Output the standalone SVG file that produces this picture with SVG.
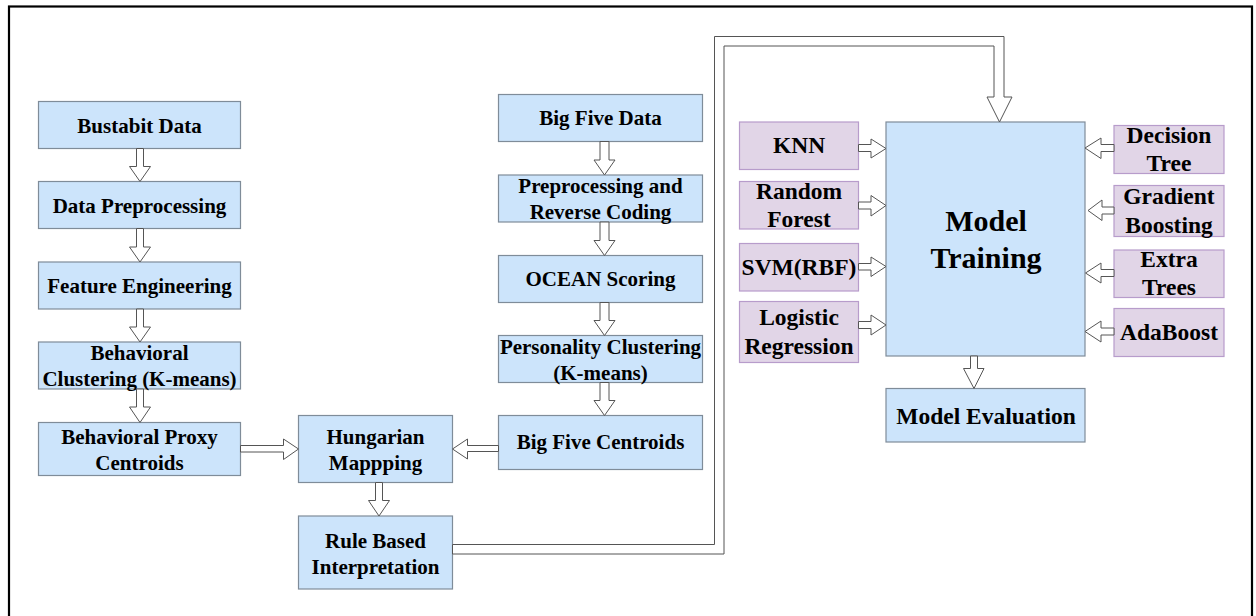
<svg xmlns="http://www.w3.org/2000/svg" width="1256" height="616" viewBox="0 0 1256 616">
<style>
.b{fill:#cce4fb;stroke:#7f8c99;stroke-width:1.2}
.p{fill:#e1d5e7;stroke:#b79ccb;stroke-width:1.2}
.t{font-family:"Liberation Serif","Times New Roman",serif;font-weight:bold;font-size:21px;fill:#000;text-anchor:middle}
.tp{font-size:23.5px}
.te{font-size:23.5px}
.tm{font-size:30px}
.a{fill:#fff;stroke:#555;stroke-width:1}
</style>
<rect x="0" y="0" width="1256" height="616" fill="#fff"/>
<rect x="9" y="6.5" width="1243" height="700" fill="none" stroke="#000" stroke-width="2.2"/>

<g id="n-bustabit"><rect class="b" x="38.5" y="101.5" width="202" height="47"/><text class="t" x="139.5" y="132.5">Bustabit Data</text></g>
<g id="n-datapre"><rect class="b" x="38.5" y="181.5" width="202" height="47"/><text class="t" x="139.5" y="212.5">Data Preprocessing</text></g>
<g id="n-feature"><rect class="b" x="38.5" y="262" width="202" height="47"/><text class="t" x="139.5" y="293">Feature Engineering</text></g>
<g id="n-behclust"><rect class="b" x="38.5" y="342" width="202" height="47"/><text class="t" x="139.5" y="360">Behavioral</text><text class="t" x="139.5" y="386">Clustering (K-means)</text></g>
<g id="n-proxy"><rect class="b" x="38.5" y="422.5" width="202" height="53"/><text class="t" x="139.5" y="443.5">Behavioral Proxy</text><text class="t" x="139.5" y="469.5">Centroids</text></g>

<g id="n-hungarian"><rect class="b" x="298.5" y="415.5" width="154" height="67"/><text class="t" x="375.5" y="444">Hungarian</text><text class="t" x="375.5" y="470">Mappping</text></g>
<g id="n-rule"><rect class="b" x="298.5" y="516" width="154" height="73"/><text class="t" x="375.5" y="547.5">Rule Based</text><text class="t" x="375.5" y="573.5">Interpretation</text></g>

<g id="n-bigfive"><rect class="b" x="498.5" y="94.5" width="204" height="47"/><text class="t" x="600.5" y="125">Big Five Data</text></g>
<g id="n-prerev"><rect class="b" x="498.5" y="175" width="204" height="47"/><text class="t" x="600.5" y="192.5">Preprocessing and</text><text class="t" x="600.5" y="219">Reverse Coding</text></g>
<g id="n-ocean"><rect class="b" x="498.5" y="255.5" width="204" height="47"/><text class="t" x="600.5" y="285.5">OCEAN Scoring</text></g>
<g id="n-persclust"><rect class="b" x="498.5" y="335.5" width="204" height="47"/><text class="t" x="600.5" y="353.5">Personality Clustering</text><text class="t" x="600.5" y="379.5">(K-means)</text></g>
<g id="n-centroids"><rect class="b" x="498.5" y="415.5" width="204" height="54"/><text class="t" x="600.5" y="448.5">Big Five Centroids</text></g>

<g id="n-training"><rect class="b" x="886" y="122" width="199" height="234"/><text class="t tm" x="986" y="231">Model</text><text class="t tm" x="986" y="268">Training</text></g>
<g id="n-eval"><rect class="b" x="886" y="388.5" width="199" height="53.5"/><text class="t te" x="986" y="423.5">Model Evaluation</text></g>

<g id="n-knn"><rect class="p" x="739.5" y="122" width="119" height="47.5"/><text class="t tp" x="799" y="152.5">KNN</text></g>
<g id="n-rf"><rect class="p" x="739.5" y="181.5" width="119" height="47.5"/><text class="t tp" x="799" y="198.5">Random</text><text class="t tp" x="799" y="226.5">Forest</text></g>
<g id="n-svm"><rect class="p" x="739.5" y="243.5" width="119" height="47.5"/><text class="t tp" x="799" y="275">SVM(RBF)</text></g>
<g id="n-lr"><rect class="p" x="739.5" y="301.5" width="119" height="61"/><text class="t tp" x="799" y="325">Logistic</text><text class="t tp" x="799" y="353.5">Regression</text></g>

<g id="n-dt"><rect class="p" x="1114" y="125.5" width="110" height="48"/><text class="t tp" x="1169" y="142.5">Decision</text><text class="t tp" x="1169" y="171">Tree</text></g>
<g id="n-gb"><rect class="p" x="1114" y="185.5" width="110" height="51"/><text class="t tp" x="1169" y="204">Gradient</text><text class="t tp" x="1169" y="233">Boosting</text></g>
<g id="n-et"><rect class="p" x="1114" y="250" width="110" height="47.5"/><text class="t tp" x="1169" y="266.5">Extra</text><text class="t tp" x="1169" y="295">Trees</text></g>
<g id="n-ada"><rect class="p" x="1114" y="308.5" width="110" height="48"/><text class="t tp" x="1169" y="339.5">AdaBoost</text></g>

<g id="connectors">
<!-- left column down arrows, cx=140 -->
<path class="a" d="M136.5 148.5V166.5H129.5L140 181.5L150.5 166.5H143.5V148.5Z"/>
<path class="a" d="M136.5 228.5V247H129.5L140 262L150.5 247H143.5V228.5Z"/>
<path class="a" d="M136.5 309V327H129.5L140 342L150.5 327H143.5V309Z"/>
<path class="a" d="M136.5 389V407H129.5L140 422.5L150.5 407H143.5V389Z"/>
<!-- proxy -> hungarian -->
<path class="a" d="M240.5 445.5H283.5V439L298.5 449L283.5 459.5V452H240.5Z"/>
<!-- centroids -> hungarian -->
<path class="a" d="M498.5 445.5H467.5V439L452.5 449L467.5 459V451.5H498.5Z"/>
<!-- hungarian -> rule -->
<path class="a" d="M375.5 482.5V500.5H368.5L379 516L389.5 500.5H382.5V482.5Z"/>
<!-- right column, cx=604 -->
<path class="a" d="M600 141.5V160H594L604.5 175L615 160H609V141.5Z"/>
<path class="a" d="M600 222V240.5H594L604.5 255.5L615 240.5H609V222Z"/>
<path class="a" d="M600 302.5V320.5H594L604.5 335.5L615 320.5H609V302.5Z"/>
<path class="a" d="M600 382.5V400.5H594L604.5 415.5L615 400.5H609V382.5Z"/>
<!-- rule -> model training long connector -->
<path class="a" d="M452.5 544.5H714.5V36.5H1004V97H1012L999.5 122L987 97H994V46H724V554H452.5Z"/>
<!-- left algorithms -> training -->
<path class="a" d="M858.5 144.5H871V139L886 148.5L871 158V151.5H858.5Z"/>
<path class="a" d="M858.5 202H871V195.5L886 205.5L871 216V209H858.5Z"/>
<path class="a" d="M858.5 263.5H871V257L886 266.5L871 276.5V270H858.5Z"/>
<path class="a" d="M858.5 321.5H871V315L886 325L871 335V328.5H858.5Z"/>
<!-- right algorithms -> training -->
<path class="a" d="M1114 144.5H1101V138L1085 148L1101 158.5V151.5H1114Z"/>
<path class="a" d="M1114 207H1102V200L1088 210.5L1102 220.5V214H1114Z"/>
<path class="a" d="M1114 269.5H1101V263L1085.5 273L1101 283V276.5H1114Z"/>
<path class="a" d="M1114 328H1101V321L1085 331.5L1101 342V335H1114Z"/>
<!-- training -> evaluation -->
<path class="a" d="M970.5 356V368.5H963.5L974 388.5L984 368.5H977.5V356Z"/>
</g>
</svg>
